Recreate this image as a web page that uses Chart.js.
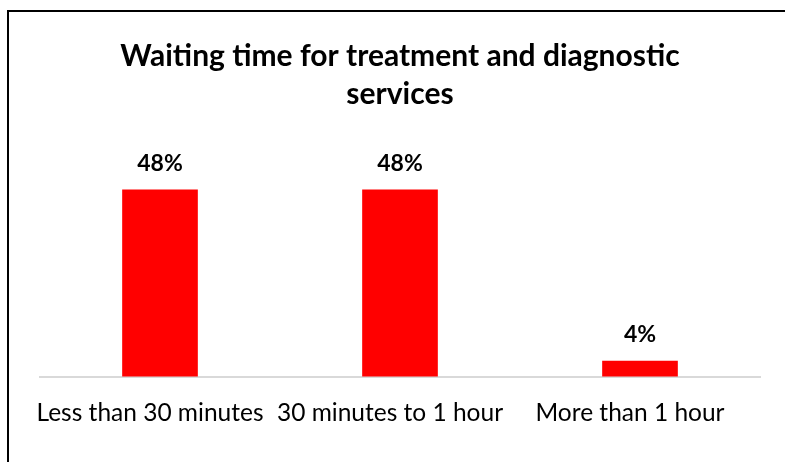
<!DOCTYPE html>
<html>
<head>
<meta charset="utf-8">
<script src="https://cdn.jsdelivr.net/npm/chart.js@4"></script>
<style>
  html, body { margin: 0; padding: 0; background: #fff; overflow: hidden; }
  #wrap { position: relative; width: 785px; height: 462px; }
  #frame { position: absolute; left: 7px; top: 10px; width: 900px; height: 700px; border: 2px solid #000; box-sizing: border-box; pointer-events: none; }
  canvas { position: absolute; left: 0; top: 0; }
</style>
</head>
<body>
<div id="wrap">
  <canvas id="c" width="785" height="462"></canvas>
  <div id="frame"></div>
</div>
<script>
const categories = ["Less than 30 minutes", "30 minutes to 1 hour", "More than 1 hour"];
const values = [48, 48, 4];
const valueLabels = ["48%", "48%", "4%"];
const titleLines = ["Waiting time for treatment and diagnostic", "services"];

const FONT = "Lato, 'Open Sans', sans-serif";

const barLabels = {
  id: 'barLabels',
  afterDatasetsDraw(chart) {
    const ctx = chart.ctx;
    const meta = chart.getDatasetMeta(0);
    ctx.save();
    ctx.font = "bold 23px " + FONT;
    ctx.fillStyle = "#000";
    ctx.textAlign = "center";
    ctx.textBaseline = "middle";
    meta.data.forEach((bar, i) => {
      ctx.fillText(valueLabels[i], bar.x, bar.y - 26);
    });
    ctx.restore();
  }
};

new Chart(document.getElementById('c'), {
  type: 'bar',
  data: {
    labels: categories,
    datasets: [{
      data: values,
      backgroundColor: '#ff0000',
      borderWidth: 0,
      barThickness: 75
    }]
  },
  options: {
    responsive: false,
    animation: false,
    devicePixelRatio: 1,
    layout: { padding: { left: 40, right: 25, top: 37, bottom: 20 } },
    plugins: {
      legend: { display: false },
      tooltip: { enabled: false },
      title: {
        display: true,
        text: titleLines,
        color: '#000',
        font: { family: FONT, size: 30, weight: 'bold', lineHeight: '38px' },
        padding: { top: 0, bottom: 30 }
      }
    },
    scales: {
      x: {
        grid: { display: false },
        border: { display: true, color: '#d9d9d9', width: 2 },
        ticks: {
          color: '#000',
          font: { family: FONT, size: 24.5 },
          padding: 14,
          labelOffset: -10,
          maxRotation: 0,
          autoSkip: false
        }
      },
      y: {
        display: false,
        min: 0,
        max: 60
      }
    }
  },
  plugins: [barLabels]
});
</script>
</body>
</html>
